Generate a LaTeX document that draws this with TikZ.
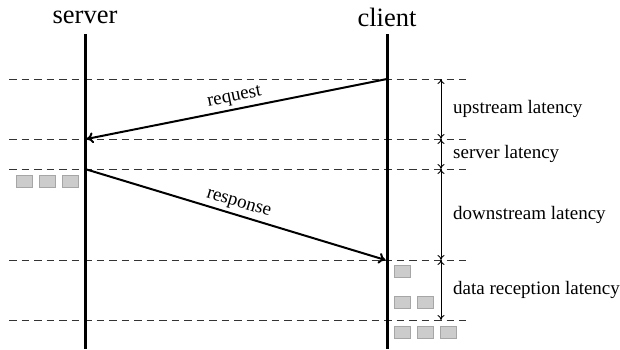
\documentclass[tikz,border=0pt]{standalone}
\usepackage{fontspec}
\setmainfont{Liberation Serif}
\usetikzlibrary{arrows.meta}
\begin{document}
\begin{tikzpicture}[x=1pt,y=-1pt,
  head/.style={font=\fontsize{26.5}{30}\selectfont, inner sep=0pt},
  lbl/.style={font=\fontsize{19}{22}\selectfont, inner sep=0pt, anchor=west},
  lifeline/.style={line width=3pt},
  msg/.style={line width=2pt, -{To[length=7pt,width=11pt]}},
  msglbl/.style={font=\fontsize{19}{22}\selectfont, sloped, above, inner sep=3pt},
  guide/.style={line width=0.9pt, black!80, dash pattern=on 7.5pt off 5pt},
  span/.style={line width=0.9pt, {To[length=5pt,width=7pt]}-{To[length=5pt,width=7pt]}},
  pkt/.style={fill=black!20, draw=black!35, line width=0.9pt, minimum width=16pt, minimum height=12pt, inner sep=0pt}
]
\useasboundingbox (0,0) rectangle (620,349);

% headings
\node[head] (sv) at (85,17) {server};
\node[head] (cl) at (387,17) {client};

% guide lines
\foreach \y/\n in {79/a,139/b,169/c,260/d,320/e}{
  \coordinate (L\n) at (9,\y);
  \coordinate (R\n) at (466,\y);
  \coordinate (M\n) at (441,\y);
  \draw[guide] (L\n) -- (R\n);
}

% lifelines
\coordinate (s0) at (85,34);
\coordinate (s1) at (85,349);
\coordinate (c0) at (387,34);
\coordinate (c1) at (387,349);
\draw[lifeline] (s0) -- (s1);
\draw[lifeline] (c0) -- (c1);

% messages
\coordinate (req0) at (387,79);
\coordinate (req1) at (86.5,139);
\coordinate (res0) at (85,169);
\coordinate (res1) at (385.5,260);
\draw[msg] (req0) -- node[msglbl] {request} (req1);
\draw[msg] (res0) -- node[msglbl] {response} (res1);

% latency spans
\draw[span] (Ma) -- (Mb);
\draw[span] (Mb) -- (Mc);
\draw[span] (Mc) -- (Md);
\draw[span] (Md) -- (Me);

\node[lbl] (up) at (453,109) {upstream latency};
\node[lbl] (sl) at (453,154) {server latency};
\node[lbl] (dn) at (453,214.5) {downstream latency};
\node[lbl] (dr) at (453,290) {data reception latency};

% packets at server
\node[pkt] (p1) at (24,181) {};
\node[pkt] (p2) at (47,181) {};
\node[pkt] (p3) at (70,181) {};

% packets at client
\node[pkt] (q1) at (402,271) {};
\node[pkt] (q2) at (402,302) {};
\node[pkt] (q3) at (425,302) {};
\node[pkt] (q4) at (402,332) {};
\node[pkt] (q5) at (425,332) {};
\node[pkt] (q6) at (448,332) {};
\end{tikzpicture}
\end{document}
